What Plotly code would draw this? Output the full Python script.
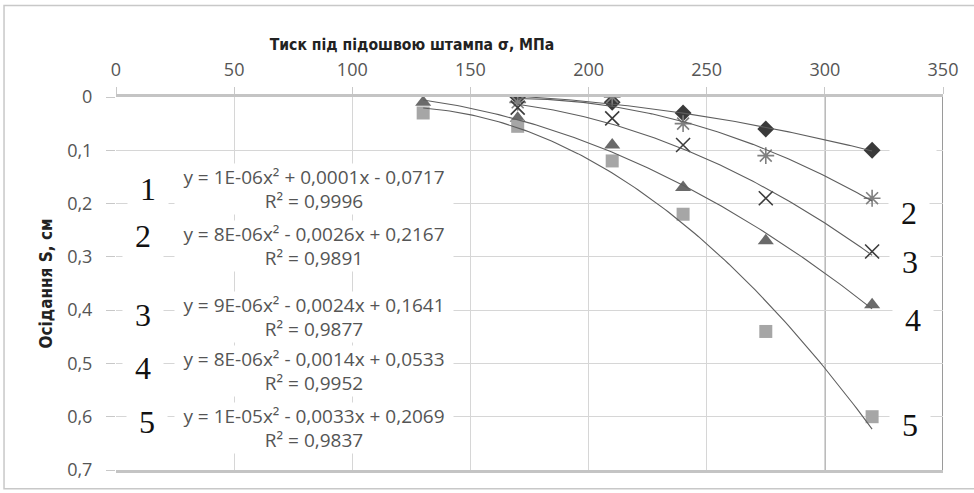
import numpy as np
import plotly.graph_objects as go

# Load levels under the plate, MPa
pressure = [130, 170, 210, 240, 275, 320]

# Settlement S, cm, for each test curve (None where no reading was taken)
settle_1 = [None, 0.00, 0.01, 0.03, 0.06, 0.10]
settle_2 = [None, 0.01, 0.00, 0.05, 0.11, 0.19]
settle_3 = [None, 0.02, 0.04, 0.09, 0.19, 0.29]
settle_4 = [0.01, 0.04, 0.09, 0.17, 0.27, 0.39]
settle_5 = [0.03, 0.055, 0.12, 0.22, 0.44, 0.60]

series_labels = ["1", "2", "3", "4", "5"]
equations = [
    "y = 1E-06x² + 0,0001x - 0,0717<br>R² = 0,9996",
    "y = 8E-06x² - 0,0026x + 0,2167<br>R² = 0,9891",
    "y = 9E-06x² - 0,0024x + 0,1641<br>R² = 0,9877",
    "y = 8E-06x² - 0,0014x + 0,0533<br>R² = 0,9952",
    "y = 1E-05x² - 0,0033x + 0,2069<br>R² = 0,9837",
]

x_ticks = [0, 50, 100, 150, 200, 250, 300, 350]
y_ticks = [0, 0.1, 0.2, 0.3, 0.4, 0.5, 0.6, 0.7]
y_tick_text = ["0", "0,1", "0,2", "0,3", "0,4", "0,5", "0,6", "0,7"]

styles = [
    dict(symbol="diamond", size=13, color="#3a3a3a", line=dict(width=0)),
    dict(symbol="asterisk-open", size=14, color="#808080", line=dict(width=1.6, color="#808080")),
    dict(symbol="x-thin-open", size=14, color="#3c3c3c", line=dict(width=1.6, color="#3c3c3c")),
    dict(symbol="triangle-up", size=14, color="#6a6a6a", line=dict(width=0)),
    dict(symbol="square", size=13, color="#a6a6a6", line=dict(width=0)),
]

fig = go.Figure()
all_series = [settle_1, settle_2, settle_3, settle_4, settle_5]

# markers
for ys, st in zip(all_series, styles):
    fig.add_trace(go.Scatter(x=pressure, y=ys, mode="markers", marker=st,
                             showlegend=False, hoverinfo="skip"))

# second-order polynomial trendlines over each series' data range
for ys in all_series:
    xs = np.array([x for x, y in zip(pressure, ys) if y is not None], float)
    vs = np.array([y for y in ys if y is not None], float)
    coef = np.polyfit(xs, vs, 2)
    xx = np.linspace(xs.min(), xs.max(), 120)
    fig.add_trace(go.Scatter(x=xx, y=np.polyval(coef, xx), mode="lines",
                             line=dict(color="#5e5e5e", width=1.1),
                             showlegend=False, hoverinfo="skip"))

eq_font = dict(family="Open Sans, sans-serif", size=19, color="#555555")
num_font = dict(family="Liberation Serif, Times New Roman, serif", size=32, color="#111111")

eq_y = [0.172, 0.28, 0.412, 0.515, 0.621]
left_num_pos = [(13.5, 0.173), (11.4, 0.261), (11.4, 0.41), (11.4, 0.509), (13.0, 0.61)]
for txt, yy in zip(equations, eq_y):
    fig.add_annotation(x=84, y=yy, text=txt, showarrow=False, font=eq_font,
                       bgcolor="white", width=276, height=48, borderpad=1)
for lab, (xx, yy) in zip(series_labels, left_num_pos):
    fig.add_annotation(x=xx, y=yy, text=lab, showarrow=False, font=num_font,
                       bgcolor="white", width=38, height=44, borderpad=1)

right_num_pos = [(335.8, 0.217), (336, 0.31), (337.5, 0.419), (336, 0.615)]
for lab, (xx, yy) in zip(series_labels[1:], right_num_pos):
    fig.add_annotation(x=xx, y=yy, text=lab, showarrow=False, font=num_font,
                       bgcolor="white", width=38, height=44, borderpad=1)
# blank label box beside curve 1
fig.add_annotation(x=337.5, y=0.099, text=" ", showarrow=False, font=num_font,
                   bgcolor="white", width=44, height=42, borderpad=1)

# darker reference verticals at 300 and at the right edge
fig.add_shape(type="line", x0=300, x1=300, y0=0, y1=0.7, xref="x", yref="y",
              line=dict(color="#7a7a7a", width=1.3), layer="below")
fig.add_shape(type="line", x0=350, x1=350, y0=0, y1=0.7, xref="x", yref="y",
              line=dict(color="#9a9a9a", width=2), layer="below")

# outer chart border
fig.add_shape(type="rect", xref="paper", yref="paper", x0=-0.1354, x1=1.06, y0=-0.05, y1=1.245,
              line=dict(color="#c8c8c8", width=1.5), fillcolor="rgba(0,0,0,0)")

fig.update_layout(
    width=974, height=493,
    margin=dict(l=116, r=31, t=97, b=21),
    paper_bgcolor="white", plot_bgcolor="white",
    title=dict(text="<b>Тиск під підошвою штампа σ, МПа</b>", x=412 / 974, xanchor="center",
               y=0.91, yanchor="middle",
               font=dict(family="DejaVu Sans Condensed, sans-serif", size=15.6, color="#222222")),
)
fig.update_xaxes(side="top", range=[0, 350], tickvals=x_ticks, ticks="outside", ticklen=7,
                 tickcolor="#c8c8c8", showgrid=True, gridcolor="#d6d6d6", gridwidth=1.2,
                 showline=True, linecolor="#c4c4c4", linewidth=2.5, mirror=True,
                 zeroline=False, ticklabelstandoff=4,
                 tickfont=dict(family="Open Sans, sans-serif", size=18, color="#555555"))
fig.update_yaxes(range=[0.7, 0], tickvals=y_ticks, ticktext=y_tick_text, ticks="outside",
                 ticklen=9, tickcolor="#c8c8c8", showgrid=True, gridcolor="#d6d6d6",
                 gridwidth=1.2, showline=False, zeroline=False, ticklabelstandoff=10,
                 tickfont=dict(family="Open Sans, sans-serif", size=18, color="#555555"),
                 title=dict(text="<b>Осідання S, см</b>", standoff=10,
                            font=dict(family="DejaVu Sans Condensed, sans-serif", size=17,
                                      color="#222222")))

fig.write_html("out.html")
